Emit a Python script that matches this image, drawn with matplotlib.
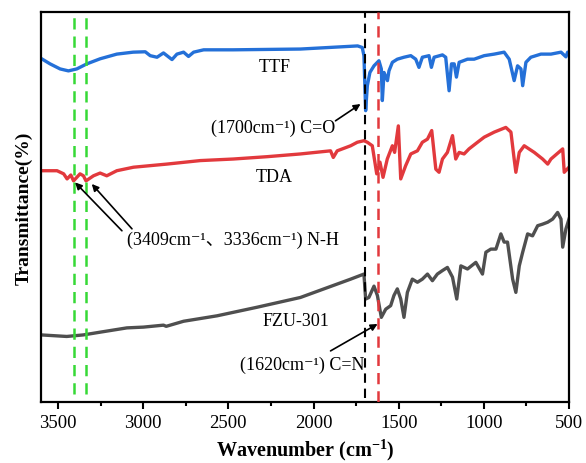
import matplotlib
matplotlib.use("Agg")
import matplotlib.pyplot as plt
from matplotlib.ticker import MultipleLocator

plt.rcParams['font.family'] = ['Liberation Serif', 'DejaVu Serif', 'Noto Sans CJK SC']
plt.rcParams['mathtext.fontset'] = 'custom'
plt.rcParams['mathtext.rm'] = 'Liberation Serif'
plt.rcParams['mathtext.bf'] = 'Liberation Serif:bold'

# FTIR spectra (stacked, arbitrary transmittance units)
ttf_wn = [3600, 3547, 3488, 3439, 3390, 3331, 3253, 3155, 3059, 2988, 2959, 2919, 2881,
          2831, 2802, 2763, 2734, 2704, 2645, 2471, 2077, 1741, 1714, 1704, 1694, 1684,
          1669, 1645, 1616, 1602, 1596, 1586, 1566, 1557, 1537, 1508, 1469, 1429, 1400,
          1381, 1361, 1322, 1308, 1292, 1243, 1224, 1204, 1190, 1174, 1161, 1145, 1096,
          1057, 998, 939, 881, 851, 822, 802, 782, 772, 753, 724, 665, 606, 547, 518,
          508, 500]
ttf_t = [88.1, 86.7, 85.4, 84.9, 85.4, 86.7, 88.0, 89.2, 89.7, 89.8, 88.8, 88.4, 89.5,
         87.8, 89.2, 89.7, 88.6, 89.7, 90.3, 90.3, 90.5, 91.3, 90.9, 88.8, 74.7, 81.1,
         84.5, 86.2, 87.5, 85.4, 77.3, 84.5, 82.4, 84.9, 87.1, 87.9, 88.4, 88.8, 87.9,
         85.8, 88.4, 88.8, 85.8, 88.4, 89.0, 88.4, 79.8, 86.7, 86.7, 83.3, 87.1, 87.9,
         87.9, 88.8, 89.2, 89.7, 87.9, 82.4, 86.2, 85.4, 81.1, 87.1, 88.4, 89.2, 89.2,
         89.7, 88.5, 89.7, 89.7]

tda_wn = [3600, 3506, 3467, 3447, 3425, 3409, 3371, 3351, 3336, 3292, 3253, 3214, 3155,
          3057, 2959, 2861, 2665, 2471, 2272, 2077, 1900, 1884, 1861, 1782, 1743, 1704,
          1684, 1655, 1629, 1610, 1592, 1567, 1537, 1524, 1502, 1488, 1459, 1429, 1390,
          1361, 1331, 1306, 1282, 1263, 1243, 1214, 1184, 1165, 1145, 1116, 1087, 1037,
          998, 939, 871, 841, 822, 812, 792, 763, 704, 655, 625, 606, 537, 528, 500]
tda_t = [59.3, 59.3, 58.5, 57.2, 58.2, 56.7, 58.5, 58.0, 56.7, 58.0, 58.7, 58.0, 59.3,
         60.2, 60.6, 61.0, 61.9, 62.3, 62.9, 63.6, 64.4, 62.7, 64.4, 65.7, 66.6, 67.0,
         66.6, 65.7, 58.5, 61.5, 57.6, 62.3, 65.7, 64.0, 70.8, 57.2, 60.6, 63.6, 64.4,
         66.6, 67.4, 69.6, 59.7, 58.9, 62.3, 64.0, 68.3, 62.3, 64.0, 63.6, 64.9, 66.6,
         67.9, 69.2, 70.4, 69.2, 62.3, 58.9, 64.0, 65.7, 64.0, 62.3, 61.0, 62.3, 64.9,
         58.9, 60.2]

fzu_wn = [3600, 3449, 3351, 3253, 3096, 2998, 2881, 2865, 2763, 2566, 2331, 2077, 1939,
          1782, 1704, 1694, 1675, 1645, 1625, 1602, 1576, 1547, 1528, 1508, 1488, 1469,
          1449, 1420, 1390, 1361, 1331, 1302, 1273, 1243, 1214, 1184, 1159, 1135, 1096,
          1047, 1008, 988, 959, 929, 900, 881, 861, 831, 812, 792, 772, 743, 714, 684,
          655, 625, 596, 567, 547, 537, 518, 500]
fzu_t = [17.2, 16.8, 17.2, 17.9, 19.0, 19.2, 19.7, 19.4, 20.7, 22.1, 24.3, 26.8, 29.0,
         31.5, 32.8, 26.4, 26.8, 29.7, 27.3, 21.7, 23.8, 24.7, 27.3, 29.0, 26.4, 21.7,
         28.1, 31.5, 30.7, 31.5, 32.8, 31.1, 32.8, 33.7, 34.5, 32.0, 26.4, 34.9, 34.1,
         35.8, 32.8, 38.4, 39.2, 39.2, 43.1, 41.0, 41.0, 31.5, 28.1, 34.9, 38.4, 43.1,
         42.6, 45.2, 45.6, 46.1, 46.9, 48.6, 46.9, 39.7, 44.4, 46.9]

# characteristic bands (cm-1)
nh_bands = [3409, 3336]
co_band = 1700
cn_band = 1620

x_ticks = [3500, 3000, 2500, 2000, 1500, 1000, 500]

fig = plt.figure(figsize=(5.86, 4.64), dpi=100)
ax = fig.add_axes([0.070, 0.1315, 0.901, 0.8405])

lw = 2.4
ax.plot(ttf_wn, ttf_t, color='#2470d8', lw=lw, zorder=2)
ax.plot(tda_wn, tda_t, color='#e2393d', lw=lw, zorder=2)
ax.plot(fzu_wn, fzu_t, color='#4f4f4f', lw=lw, zorder=2)

for b in nh_bands:
    ax.axvline(b, ymin=0.02, ymax=1, color='#36d936', lw=1.8, ls=(0, (4.5, 2.8)), zorder=3)
ax.axvline(co_band, ymin=0.01, ymax=1, color='black', lw=1.5, ls=(0, (4.5, 2.8)), zorder=3)
ax.axvline(cn_band, ymin=0.0, ymax=1, color='#e2393d', lw=1.8, ls=(0, (4.5, 2.8)), zorder=3)

ax.set_xlim(3600, 500)
ax.set_ylim(0, 100)
ax.set_xticks(x_ticks)
ax.xaxis.set_minor_locator(MultipleLocator(250))
ax.set_yticks([])
ax.tick_params(axis='x', which='major', direction='out', length=5, width=1.5,
               labelsize=13.5, pad=4)
ax.tick_params(axis='x', which='minor', direction='out', length=3, width=1.5)
for sp in ax.spines.values():
    sp.set_linewidth(1.6)

ax.set_xlabel(r'Wavenumber (cm$^{\mathbf{-1}}$)', fontsize=14.5, fontweight='bold', labelpad=3)
ax.set_ylabel('Transmittance(%)', fontsize=14, fontweight='bold', labelpad=6)

lbl = dict(fontsize=13, ha='center', va='center')
ax.text(2229, 85.9, 'TTF', **lbl)
ax.text(2229, 57.9, 'TDA', **lbl)
ax.text(2106, 21.0, 'FZU-301', **lbl)

fam = ['Liberation Serif', 'DejaVu Serif', 'Noto Sans CJK SC']
arrow = dict(arrowstyle='-|>', color='black', lw=1.2, mutation_scale=10, shrinkA=0, shrinkB=0)

ax.text(2235, 70.3, '(1700cm⁻¹) C=O', family=fam, **lbl)
ax.annotate('', xy=(1724, 76.4), xytext=(1871, 72.1), arrowprops=arrow)

ax.text(2471, 41.8, '(3409cm⁻¹、3336cm⁻¹) N-H', family=fam, **lbl)
ax.annotate('', xy=(3400, 56.3), xytext=(3125, 43.9), arrowprops=arrow)
ax.annotate('', xy=(3302, 55.9), xytext=(3066, 44.4), arrowprops=arrow)

ax.text(2065, 9.7, '(1620cm⁻¹) C=N', family=fam, **lbl)
ax.annotate('', xy=(1624, 20.0), xytext=(1900, 13.1), arrowprops=arrow)

fig.savefig('out.png', dpi=100)
